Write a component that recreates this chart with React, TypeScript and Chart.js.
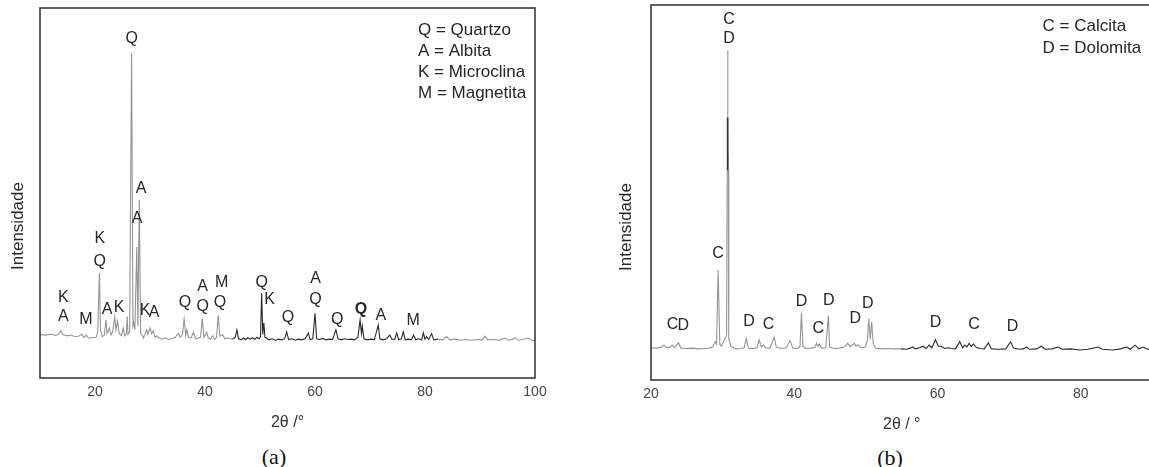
import React, { useEffect, useRef } from 'react';
import { Chart, registerables } from 'chart.js';

Chart.register(...registerables);

const SANS = '"Liberation Sans", Arial, Helvetica, sans-serif';
const SERIF = '"Liberation Serif", "Times New Roman", serif';

// ---------- Panel (a): quartz / feldspar sample ----------
const thetaA = [
  10.0, 11.0, 12.0, 12.8, 13.4, 13.8, 14.2, 15.0, 15.6, 16.3, 17.0, 17.6, 18.0, 18.4, 18.8, 19.5,
  20.2, 20.5, 20.8, 21.0, 21.3, 21.7, 22.0, 22.2, 22.6, 22.9, 23.2, 23.6, 23.8, 24.1, 24.4, 24.8,
  25.15, 25.4, 25.7, 25.85, 26.0, 26.3, 26.65, 26.9, 27.05, 27.25, 27.6, 27.8, 28.05, 28.3, 28.6, 28.8,
  29.1, 29.4, 29.6, 30.0, 30.3, 30.6, 30.9, 31.2, 31.6, 32.2, 32.8, 33.4, 34.0, 34.6, 35.15, 35.5,
  35.9, 36.2, 36.5, 36.7, 37.0, 37.5, 37.9, 38.3, 38.8, 39.2, 39.5, 39.8, 40.3, 40.6, 41.0, 41.4,
  41.8, 42.1, 42.4, 42.7, 43.2, 43.6, 44.1, 44.5, 45.0, 45.5, 45.8, 46.1, 46.6, 47.0, 47.4, 47.8,
  48.2, 48.6, 49.0, 49.4, 49.8, 50.1, 50.3, 50.5, 50.7, 50.9, 51.2, 51.6, 52.2, 52.8, 53.4, 54.0,
  54.5, 54.85, 55.2, 55.8, 56.4, 57.0, 57.6, 58.2, 58.8, 59.1, 59.6, 60.0, 60.3, 60.8, 61.4, 62.0,
  62.6, 63.2, 63.8, 64.2, 64.8, 65.4, 66.0, 66.6, 67.2, 67.8, 68.2, 68.45, 68.6, 68.9, 69.5, 70.2,
  70.8, 71.5, 71.8, 72.4, 73.0, 73.6, 74.0, 74.5, 74.85, 75.2, 75.7, 76.05, 76.4, 77.0, 77.5, 77.9,
  78.3, 78.9, 79.4, 79.7, 80.0, 80.3, 80.7, 81.2, 81.6, 82.4, 83.2, 83.9, 84.5, 85.5, 86.5, 87.5,
  88.5, 89.5, 90.4, 90.9, 91.4, 92.5, 93.5, 94.5, 95.2, 96.0, 96.4, 97.0, 97.8, 98.8, 99.4, 100.0,
];
const countsA = [
  11.8, 11.6, 11.9, 11.5, 11.8, 12.8, 11.7, 11.4, 11.6, 11.2, 11.3, 11.8, 10.9, 11.6, 10.8, 10.9,
  11.0, 12.5, 28.4, 13.0, 11.2, 11.5, 15.7, 12.0, 13.5, 11.6, 12.4, 16.6, 13.0, 15.3, 12.0, 11.5,
  13.5, 11.4, 12.0, 16.6, 11.8, 12.5, 87.8, 14.0, 14.9, 13.0, 35.4, 14.0, 48.1, 12.0, 11.5, 10.8,
  12.0, 13.0, 11.8, 13.5, 12.0, 12.8, 11.0, 11.4, 10.8, 10.5, 10.8, 10.4, 10.7, 11.0, 12.1, 11.0,
  11.8, 15.9, 11.5, 13.0, 10.9, 11.0, 12.3, 10.6, 10.8, 11.0, 16.1, 11.0, 12.4, 10.8, 10.5, 11.4,
  10.4, 11.0, 17.0, 11.3, 11.7, 10.6, 10.8, 10.6, 10.5, 11.0, 13.0, 10.6, 10.3, 10.8, 10.4, 10.9,
  10.5, 10.9, 10.4, 11.0, 10.6, 11.2, 23.0, 11.8, 14.9, 11.0, 10.8, 10.3, 10.6, 10.2, 10.5, 10.3,
  10.7, 12.5, 10.4, 10.6, 10.2, 10.5, 10.3, 10.6, 12.1, 10.4, 10.6, 17.5, 10.6, 10.4, 10.7, 10.3,
  10.5, 10.4, 13.0, 10.6, 10.3, 10.6, 10.4, 10.5, 10.3, 11.0, 15.7, 12.0, 14.0, 10.6, 10.3, 10.5,
  10.4, 14.3, 10.6, 10.3, 10.6, 11.6, 10.4, 10.5, 12.2, 10.4, 10.6, 12.5, 10.3, 10.5, 10.3, 11.6,
  10.4, 10.6, 10.3, 12.2, 10.5, 11.2, 10.4, 12.0, 10.3, 10.5, 10.3, 11.2, 10.3, 10.5, 10.2, 10.4,
  10.2, 10.4, 10.3, 11.3, 10.3, 10.4, 10.2, 10.8, 10.2, 10.5, 10.9, 10.2, 10.4, 10.8, 10.2, 10.1,
];
const ticksA = [20, 40, 60, 80, 100];
const peakTextA = [
  'K', 'A', 'M', 'K', 'Q', 'A', 'K', 'Q', 'A', 'A', 'K', 'A', 'Q', 'A', 'Q',
  'M', 'Q', 'Q', 'K', 'Q', 'A', 'Q', 'Q', 'Q', 'A', 'M',
];
const peakThetaA = [
  14.24, 14.24, 18.36, 20.9, 20.85, 22.2, 24.4, 26.67, 28.4, 27.65, 29.1, 30.75, 36.36, 39.58, 39.58,
  43.04, 42.73, 50.3, 51.75, 55.1, 60.1, 60.1, 64.05, 68.36, 71.95, 77.87,
];
const peakLevelA = [
  21.6, 16.6, 15.7, 37.6, 31.4, 18.4, 18.9, 91.6, 51.1, 43.0, 18.1, 17.8, 20.5, 24.6, 19.2,
  25.7, 20.3, 25.7, 21.1, 16.2, 26.8, 21.1, 15.9, 18.4, 17.0, 15.5,
];
// the doubled-up quartz reflection near 68° is printed in bold
const boldPeakA = [23];
const legendA = ['Q = Quartzo', 'A = Albita', 'K = Microclina', 'M = Magnetita'];

// ---------- Panel (b): carbonate sample ----------
const thetaB = [
  20.0, 20.8, 21.4, 21.8, 22.2, 22.6, 22.98, 23.3, 23.8, 24.2, 25.0, 25.8, 26.6, 27.4, 28.1, 28.6,
  28.95, 29.15, 29.37, 29.6, 29.8, 30.2, 30.55, 30.64, 30.66, 30.7, 30.74, 30.76, 30.85, 31.15, 31.85, 32.5,
  33.0, 33.3, 33.6, 34.2, 34.8, 35.1, 35.4, 35.7, 36.0, 36.6, 37.2, 37.5, 38.2, 38.9, 39.4, 39.8,
  40.5, 40.8, 41.0, 41.2, 41.6, 42.3, 42.9, 43.1, 43.3, 43.5, 43.8, 44.4, 44.75, 44.95, 45.5, 46.3,
  47.0, 47.45, 47.8, 48.4, 48.6, 48.85, 49.3, 49.9, 50.2, 50.4, 50.6, 50.8, 51.0, 51.3, 52.0, 53.0,
  54.0, 54.9, 55.6, 56.2, 56.5, 56.9, 57.5, 57.95, 58.4, 58.8, 59.2, 59.7, 60.1, 60.5, 61.0, 61.5,
  61.9, 62.5, 63.1, 63.5, 63.8, 64.1, 64.4, 64.7, 65.0, 65.4, 65.9, 66.5, 67.1, 67.5, 68.5, 69.5,
  70.2, 70.6, 71.4, 72.0, 72.4, 72.8, 73.8, 74.5, 75.0, 76.0, 76.8, 77.4, 78.5, 79.9, 81.0, 82.4,
  83.0, 84.5, 85.5, 86.4, 86.9, 87.55, 88.1, 88.7, 89.3, 90.0,
];
const countsB = [
  8.6, 8.5, 8.7, 9.3, 8.6, 8.7, 9.3, 8.6, 9.9, 8.5, 8.4, 8.5, 8.3, 8.4, 8.5, 8.8,
  10.2, 9.5, 29.3, 9.6, 9.0, 10.5, 12.0, 56.0, 70.0, 88.0, 70.0, 56.0, 11.0, 9.0, 8.3, 8.4,
  8.6, 11.1, 8.5, 8.4, 8.6, 10.7, 8.8, 9.4, 8.6, 8.5, 11.4, 8.7, 8.4, 8.6, 10.5, 8.5,
  8.4, 9.0, 18.0, 9.0, 8.4, 8.5, 8.7, 9.8, 9.0, 9.6, 8.5, 8.6, 17.1, 8.8, 8.4, 8.5,
  8.8, 9.8, 8.9, 9.8, 9.0, 9.4, 8.6, 8.8, 10.5, 16.4, 10.8, 15.5, 10.0, 8.5, 8.3, 8.4,
  8.3, 8.3, 8.2, 8.5, 8.8, 8.3, 8.6, 9.0, 8.4, 9.3, 8.6, 10.7, 9.0, 9.0, 8.4, 8.6,
  8.4, 8.3, 10.2, 8.6, 9.3, 8.8, 9.8, 8.9, 9.6, 8.7, 8.4, 8.3, 9.9, 8.3, 8.2, 8.3,
  10.2, 8.5, 8.2, 8.3, 8.8, 8.2, 8.3, 9.0, 8.2, 8.3, 8.8, 8.2, 8.3, 8.0, 8.2, 8.8,
  8.2, 8.0, 8.3, 8.8, 8.2, 9.3, 8.3, 8.8, 8.2, 8.3,
];
const ticksB = [20, 40, 60, 80];
const peakTextB = ['C', 'D', 'C', 'C', 'D', 'D', 'C', 'D', 'C', 'D', 'D', 'D', 'D', 'C', 'D'];
const peakThetaB = [23.0, 24.5, 29.37, 30.9, 30.9, 33.7, 36.4, 41.0, 43.35, 44.8, 48.5, 50.25, 59.7, 65.1, 70.45];
const peakLevelB = [14.7, 14.4, 33.6, 96.2, 91.1, 15.6, 14.7, 20.9, 13.8, 21.1, 16.4, 20.3, 15.3, 14.7, 14.2];
const boldPeakB: number[] = [];
const legendB = ['C = Calcita', 'D = Dolomita'];

const LIGHT = '#949494';
const DARK = '#2a2a2a';
const TEXT = '#262626';

type Decor = {
  peakText: string[];
  peakTheta: number[];
  peakLevel: number[];
  boldPeaks: number[];
  legend: string[];
  legendDx: number;
  legendDy: number;
  legendGap: number;
  titleDx: number;
  titleDy: number;
};

// Frame, phase labels, key and vertical axis title
function decorations(d: Decor) {
  return {
    id: 'decorations',
    afterDatasetsDraw(chart: any) {
      const { ctx, chartArea: a, scales } = chart;
      const xs = scales.x;
      const ys = scales.y;
      ctx.save();
      ctx.strokeStyle = '#3a3a3a';
      ctx.lineWidth = 1.6;
      ctx.strokeRect(a.left, a.top, a.right - a.left, a.bottom - a.top);

      ctx.fillStyle = TEXT;
      ctx.textAlign = 'center';
      ctx.textBaseline = 'middle';
      d.peakText.forEach((t, i) => {
        ctx.font = `${d.boldPeaks.includes(i) ? 'bold ' : ''}16px ${SANS}`;
        ctx.fillText(t, xs.getPixelForValue(d.peakTheta[i]), ys.getPixelForValue(d.peakLevel[i]));
      });

      ctx.font = `17px ${SANS}`;
      ctx.textAlign = 'left';
      d.legend.forEach((t, i) => {
        ctx.fillText(t, a.right + d.legendDx, a.top + d.legendDy + i * d.legendGap);
      });

      ctx.translate(a.left + d.titleDx, (a.top + a.bottom) / 2 + d.titleDy);
      ctx.rotate(-Math.PI / 2);
      ctx.textAlign = 'center';
      ctx.fillText('Intensidade', 0, 0);
      ctx.restore();
    },
  };
}

type PanelSpec = {
  theta: number[];
  counts: number[];
  ticks: number[];
  min: number;
  max: number;
  xTitle: string;
  padding: { left: number; right: number; top: number; bottom: number };
  axisHeight: number;
  titlePad: number;
  dark: (x0: number, y0: number, y1: number) => boolean;
  decor: Decor;
};

function buildConfig(p: PanelSpec): any {
  return {
    type: 'line',
    data: {
      datasets: [
        {
          data: p.theta.map((t, i) => ({ x: t, y: p.counts[i] })),
          borderColor: LIGHT,
          borderWidth: 1.1,
          pointRadius: 0,
          tension: 0,
          fill: false,
          segment: {
            borderColor: (c: any) => (p.dark(c.p0.parsed.x, c.p0.parsed.y, c.p1.parsed.y) ? DARK : LIGHT),
          },
        },
      ],
    },
    options: {
      animation: false,
      responsive: false,
      devicePixelRatio: 1,
      layout: { padding: p.padding },
      plugins: {
        legend: { display: false },
        tooltip: { enabled: false },
        title: { display: false },
      },
      scales: {
        x: {
          type: 'linear',
          min: p.min,
          max: p.max,
          grid: { display: false, drawTicks: false },
          border: { display: false },
          ticks: { font: { family: SANS, size: 14 }, color: '#444', padding: 6, maxRotation: 0 },
          afterBuildTicks: (axis: any) => {
            axis.ticks = p.ticks.map((value) => ({ value }));
          },
          afterFit: (axis: any) => {
            axis.height = p.axisHeight;
          },
          title: {
            display: true,
            text: p.xTitle,
            font: { family: SANS, size: 16 },
            color: '#333',
            padding: { top: 0, bottom: p.titlePad },
          },
        },
        y: { display: false, min: 0, max: 100 },
      },
    },
    plugins: [decorations(p.decor)],
  };
}

const panelA: PanelSpec = {
  theta: thetaA,
  counts: countsA,
  ticks: ticksA,
  min: 10,
  max: 100,
  xTitle: '2θ /°',
  padding: { left: 40, right: 25, top: 8, bottom: 0 },
  axisHeight: 62,
  titlePad: 7.4,
  dark: (x0) => x0 >= 45 && x0 < 81.8,
  decor: {
    peakText: peakTextA,
    peakTheta: peakThetaA,
    peakLevel: peakLevelA,
    boldPeaks: boldPeakA,
    legend: legendA,
    legendDx: -117,
    legendDy: 22,
    legendGap: 21,
    titleDx: -22,
    titleDy: 33,
  },
};

const panelB: PanelSpec = {
  theta: thetaB,
  counts: countsB,
  ticks: ticksB,
  min: 20,
  max: 90,
  xTitle: '2θ / °',
  padding: { left: 61, right: 7.5, top: 5, bottom: 0 },
  axisHeight: 60,
  titlePad: 5.4,
  dark: (x0, y0, y1) => x0 >= 54.9 || (y0 >= 55 && y1 >= 55 && y0 <= 71 && y1 <= 71),
  decor: {
    peakText: peakTextB,
    peakTheta: peakThetaB,
    peakLevel: peakLevelB,
    boldPeaks: boldPeakB,
    legend: legendB,
    legendDx: -110,
    legendDy: 21,
    legendGap: 22,
    titleDx: -25,
    titleDy: 34.5,
  },
};

function XrdPanel({ spec, left, width, height }: { spec: PanelSpec; left: number; width: number; height: number }) {
  const ref = useRef<HTMLCanvasElement>(null);
  useEffect(() => {
    const chart = new Chart(ref.current as HTMLCanvasElement, buildConfig(spec));
    return () => chart.destroy();
  }, [spec]);
  return (
    <div style={{ position: 'absolute', left, top: 0, width, height }}>
      <canvas ref={ref} width={width} height={height} />
    </div>
  );
}

const caption: React.CSSProperties = {
  position: 'absolute',
  transform: 'translate(-50%, -50%)',
  fontFamily: SERIF,
  fontSize: 22,
  lineHeight: 1,
  color: '#111',
  whiteSpace: 'nowrap',
};

export default function App() {
  return (
    <div
      style={{
        position: 'absolute',
        left: 0,
        top: 0,
        width: 1149,
        height: 467,
        overflow: 'hidden',
        background: '#ffffff',
      }}
    >
      <XrdPanel spec={panelA} left={0} width={560} height={440} />
      <XrdPanel spec={panelB} left={590} width={570} height={440} />
      <div style={{ ...caption, left: 274, top: 457 }}>(a)</div>
      <div style={{ ...caption, left: 890, top: 458 }}>(b)</div>
    </div>
  );
}
